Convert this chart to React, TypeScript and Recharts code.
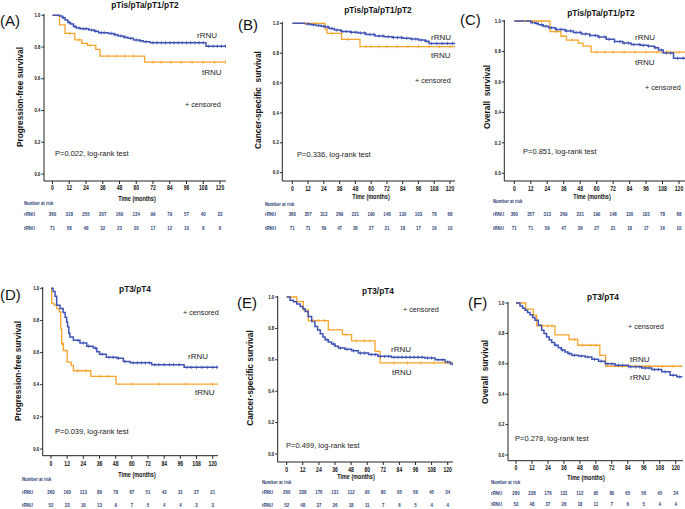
import React from "react";
import { ComposedChart, Line, XAxis, YAxis } from "recharts";

const BLUE = "#3f53b4";
const ORANGE = "#f6a42a";
const NAVY = "#2d4276";
const SANS = "'Liberation Sans', Arial, sans-serif";

const timeTicks = [0, 12, 24, 36, 48, 60, 72, 84, 96, 108, 120];
const survTicks = [0, 0.2, 0.4, 0.6, 0.8, 1.0];

// number at risk (rows per panel)
const riskLowPfsR = [360, 318, 255, 207, 169, 134, 99, 79, 57, 40, 33];
const riskLowPfsT = [71, 58, 48, 32, 23, 20, 17, 12, 10, 8, 6];
const riskLowOsR = [360, 357, 313, 269, 221, 190, 148, 130, 103, 78, 68];
const riskLowOsT = [71, 71, 59, 47, 36, 27, 21, 18, 17, 16, 10];
const riskHighPfsR = [260, 160, 113, 89, 78, 67, 51, 42, 31, 27, 21];
const riskHighPfsT = [52, 23, 16, 13, 9, 7, 5, 4, 4, 3, 3];
const riskHighOsR = [260, 238, 176, 131, 112, 95, 80, 65, 56, 45, 34];
const riskHighOsT = [52, 48, 37, 26, 18, 11, 7, 6, 5, 4, 4];

// KM steps [months, survival after drop]
const aR: [number, number][] = [[0, 1], [5, 0.995], [7, 0.985], [9, 0.97], [11, 0.955], [13, 0.945], [15, 0.93], [17, 0.92], [20, 0.915], [26, 0.907], [30, 0.9], [33, 0.89], [40, 0.886], [44, 0.878], [47, 0.87], [51, 0.862], [54, 0.855], [58, 0.845], [62, 0.84], [65, 0.834], [70, 0.827], [110, 0.805]];
const aRc = [8, 12, 16, 19, 22, 24, 28, 31, 35, 37, 42, 45, 49, 52, 56, 60, 63, 67, 72, 75, 78, 81, 84, 87, 90, 93, 96, 99, 102, 105, 108, 112, 115, 118, 121, 124];
const aT: [number, number][] = [[0, 1], [5, 0.94], [9, 0.886], [16, 0.845], [21, 0.823], [25, 0.81], [31, 0.785], [34, 0.743], [66, 0.705]];
const aTc = [12, 19, 27, 40, 46, 52, 58, 72, 78, 85, 92, 100, 108, 116, 124];

const bR: [number, number][] = [[0, 1], [10, 0.995], [14, 0.99], [18, 0.985], [22, 0.98], [25, 0.975], [28, 0.965], [32, 0.955], [37, 0.945], [44, 0.94], [50, 0.935], [56, 0.925], [63, 0.915], [70, 0.91], [76, 0.905], [84, 0.9], [90, 0.895], [96, 0.888], [101, 0.88], [104, 0.865]];
const bRc = [12, 16, 20, 24, 27, 30, 34, 38, 41, 45, 48, 52, 55, 59, 62, 66, 69, 73, 77, 80, 83, 87, 91, 94, 98, 102, 106, 110, 114, 118, 122];
const bT: [number, number][] = [[0, 1], [25, 0.96], [26.5, 0.933], [37.5, 0.893], [51.5, 0.844]];
const bTc = [10, 18, 30, 42, 56, 60, 66, 72, 80, 88, 96, 104, 112, 120];

const cR: [number, number][] = [[0, 1], [12, 0.99], [15, 0.985], [17.5, 0.975], [21, 0.965], [25, 0.955], [30, 0.945], [37, 0.935], [43, 0.925], [49, 0.915], [55, 0.905], [61, 0.895], [67, 0.88], [73, 0.865], [79, 0.855], [85, 0.845], [92, 0.84], [97.5, 0.835], [102, 0.825], [105, 0.81], [108.5, 0.79], [116, 0.755]];
const cRc = [13, 16, 20, 23, 27, 31, 34, 38, 41, 45, 48, 52, 55, 59, 62, 66, 69, 73, 77, 80, 83, 87, 91, 94, 98, 103, 107, 111, 114, 119, 123];
const cT: [number, number][] = [[0, 1], [26, 0.93], [34, 0.9], [38, 0.875], [46.5, 0.855], [50, 0.835], [56, 0.795]];
const cTc = [8, 14, 20, 30, 42, 60, 66, 72, 80, 88, 96, 104, 112, 120];

const dR: [number, number][] = [[0, 1], [1.5, 0.98], [3, 0.95], [4.2, 0.895], [6.7, 0.874], [9, 0.85], [10.5, 0.82], [11.6, 0.79], [12.3, 0.76], [13.2, 0.72], [14, 0.697], [16.6, 0.676], [21.5, 0.66], [26.5, 0.64], [31.4, 0.628], [34, 0.605], [36, 0.59], [41, 0.571], [48.8, 0.565], [53.7, 0.544], [58.7, 0.536], [74.7, 0.525], [98.8, 0.508]];
const dRc = [20, 24, 28, 33, 38, 43, 46, 50, 55, 61, 64, 67, 70, 73, 77, 80, 84, 88, 91, 95, 101, 104, 108, 112, 116, 120, 123];
const dT: [number, number][] = [[0, 1], [0.5, 0.906], [2.2, 0.895], [4.3, 0.874], [6.2, 0.853], [7.2, 0.749], [7.9, 0.655], [9.2, 0.613], [12, 0.54], [15, 0.52], [16.6, 0.487], [29.5, 0.452], [48.3, 0.404]];
const dTc = [8.5, 20, 26, 36, 42, 60, 80, 100, 120];

const eR: [number, number][] = [[0, 1], [2.5, 0.98], [5, 0.97], [7.5, 0.955], [10, 0.94], [12, 0.925], [13.7, 0.907], [16, 0.876], [18.6, 0.844], [21, 0.812], [23, 0.79], [25, 0.766], [27, 0.745], [28.6, 0.728], [31, 0.713], [33.5, 0.7], [36, 0.687], [38.5, 0.675], [43.5, 0.667], [48.4, 0.658], [53.4, 0.643], [61, 0.633], [68, 0.622], [78, 0.616], [103, 0.612], [110.6, 0.6], [118, 0.586], [122, 0.574]];
const eRc = [30, 35, 40, 45, 50, 55, 58, 63, 66, 70, 73, 76, 80, 83, 86, 89, 92, 95, 98, 101, 105, 108, 113, 116, 120, 124];
const eT: [number, number][] = [[0, 1], [7.5, 0.97], [12.4, 0.918], [16.1, 0.85], [31, 0.79], [41.5, 0.76], [48.4, 0.72], [65.8, 0.654], [69.6, 0.58]];
const eTc = [20, 24, 28, 44, 52, 58, 62, 80, 90, 100, 110, 118];

const fR: [number, number][] = [[0, 1], [3, 0.98], [5, 0.965], [6.8, 0.952], [8.7, 0.937], [10.5, 0.923], [12.5, 0.905], [14.3, 0.886], [16.8, 0.853], [19.3, 0.82], [21, 0.8], [23, 0.777], [25, 0.757], [26.8, 0.74], [29, 0.722], [31.8, 0.705], [34, 0.69], [36.8, 0.678], [39, 0.667], [41.8, 0.656], [46.9, 0.652], [52, 0.645], [57, 0.63], [62, 0.617], [67, 0.6], [74.4, 0.59], [84.5, 0.58], [94.5, 0.573], [102, 0.562], [109.5, 0.547], [115.8, 0.525], [120.8, 0.514]];
const fRc = [30, 35, 40, 44, 49, 54, 59, 64, 69, 72, 77, 80, 86, 90, 93, 97, 100, 104, 107, 112, 118, 123];
const fT: [number, number][] = [[0, 1], [7.3, 0.96], [13, 0.92], [15.5, 0.849], [29.3, 0.79], [39.8, 0.76], [46.4, 0.722], [63, 0.656], [67.4, 0.584]];
const fTc = [20, 24, 27, 44, 50, 56, 60, 80, 90, 100, 110, 118];

type Pt = { t: number; s: number; c?: boolean };

function levelAt(steps: [number, number][], t: number) {
  let s = 1;
  for (const [st, sv] of steps) if (st <= t) s = sv;
  return s;
}

// step points + censor ticks, sorted by time, ending at `end`
function buildKM(steps: [number, number][], cens: number[], end: number): Pt[] {
  const pts: Pt[] = steps.map(([t, s]) => ({ t, s }));
  cens.forEach((t) => pts.push({ t, s: levelAt(steps, t), c: true }));
  pts.push({ t: end, s: levelAt(steps, end) });
  return pts.sort((a, b) => a.t - b.t);
}

const censorDot = (color: string) => (p: any) =>
  p.payload && p.payload.c ? (
    <line key={p.index} x1={p.cx} x2={p.cx} y1={p.cy - 1.7} y2={p.cy + 1.7} stroke={color} strokeWidth={0.8} />
  ) : (
    <g key={p.index} />
  );

// condensed bold text (squeezed horizontally)
const NText = ({ x, y, size, fill, anchor = "middle", sx = 0.78, children }: any) => (
  <text
    transform={`translate(${x} ${y}) scale(${sx} 1)`}
    fontFamily={SANS}
    fontWeight="bold"
    fontSize={size}
    fill={fill}
    textAnchor={anchor}
    dominantBaseline="central"
  >
    {children}
  </text>
);

const panels = [
  {
    id: "A", box: [0, 0, 230, 240], yAxisX: 44, x0: 52.5, x120: 220, xEnd: 226, y1: 15.3, y0: 174, yTop: 14, axisY: 181,
    tickY: 187.5, timeX: 137, timeY: 198, narY: 203, rY: 214, tY: 228, rowX: 24,
    riskR: riskLowPfsR, riskT: riskLowPfsT, rSteps: aR, rCens: aRc, tSteps: aT, tCens: aTc, end: 125,
    letter: [0, 26], title: "pTis/pTa/pT1/pT2", titleXY: [145, 5], ytitle: "Progression-free survival", ytXY: [20, 97],
    rLab: [197, 35], tLab: [202, 72], cens: [185, 104], p: "P=0.022, log-rank test", pXY: [55, 153],
  },
  {
    id: "B", box: [230, 0, 230, 240], yAxisX: 282.3, x0: 292.3, x120: 450, xEnd: 455, y1: 23.3, y0: 172.7, yTop: 22, axisY: 181,
    tickY: 188.5, timeX: 371, timeY: 196, narY: 204, rY: 214, tY: 228, rowX: 265,
    riskR: riskLowOsR, riskT: riskLowOsT, rSteps: bR, rCens: bRc, tSteps: bT, tCens: bTc, end: 125,
    letter: [238, 30], title: "pTis/pTa/pT1/pT2", titleXY: [378, 10], ytitle: "Cancer-specific\u00a0 survival", ytXY: [258, 100],
    rLab: [431, 37], tLab: [431, 55], cens: [415, 80], p: "P=0.336, log-rank test", pXY: [297, 154],
  },
  {
    id: "C", box: [460, 0, 225, 240], yAxisX: 504.3, x0: 514.3, x120: 679, xEnd: 685, y1: 21, y0: 173.3, yTop: 20, axisY: 181,
    tickY: 188.5, timeX: 592, timeY: 196, narY: 201, rY: 214, tY: 228, rowX: 493,
    riskR: riskLowOsR, riskT: riskLowOsT, rSteps: cR, rCens: cRc, tSteps: cT, tCens: cTc, end: 125,
    letter: [460, 25], title: "pTis/pTa/pT1/pT2", titleXY: [601, 13], ytitle: "Overall\u00a0 survival", ytXY: [487, 97],
    rLab: [635, 37], tLab: [635, 62], cens: [645, 87], p: "P=0.851, log-rank test", pXY: [523, 151],
  },
  {
    id: "D", box: [0, 255, 230, 254], yAxisX: 42.7, x0: 51, x120: 212.7, xEnd: 218, y1: 288.3, y0: 449, yTop: 287, axisY: 455.7,
    tickY: 464, timeX: 137, timeY: 474, narY: 479.5, rY: 492, tY: 505, rowX: 22,
    riskR: riskHighPfsR, riskT: riskHighPfsT, rSteps: dR, rCens: dRc, tSteps: dT, tCens: dTc, end: 124,
    letter: [0, 300], title: "pT3/pT4", titleXY: [135, 289], ytitle: "Progression-free survival", ytXY: [18, 371],
    rLab: [188, 356], tLab: [195, 392], cens: [183, 312], p: "P=0.039, log-rank test", pXY: [55, 431],
  },
  {
    id: "E", box: [230, 255, 230, 254], yAxisX: 277.7, x0: 286.7, x120: 447.7, xEnd: 453, y1: 297, y0: 454, yTop: 296, axisY: 462,
    tickY: 470, timeX: 356, timeY: 476.7, narY: 482, rY: 492, tY: 505, rowX: 262,
    riskR: riskHighOsR, riskT: riskHighOsT, rSteps: eR, rCens: eRc, tSteps: eT, tCens: eTc, end: 125,
    letter: [237, 308], title: "pT3/pT4", titleXY: [378, 291], ytitle: "Cancer-specific survival", ytXY: [250, 378],
    rLab: [391, 349], tLab: [392, 372], cens: [403, 309], p: "P=0.499, log-rank test", pXY: [286, 445],
  },
  {
    id: "F", box: [460, 255, 225, 254], yAxisX: 508, x0: 516, x120: 675.7, xEnd: 683, y1: 303, y0: 455, yTop: 302, axisY: 460.7,
    tickY: 468, timeX: 586, timeY: 477.7, narY: 482.7, rY: 493, tY: 504, rowX: 491,
    riskR: riskHighOsR, riskT: riskHighOsT, rSteps: fR, rCens: fRc, tSteps: fT, tCens: fTc, end: 125,
    letter: [468, 308], title: "pT3/pT4", titleXY: [603, 297], ytitle: "Overall\u00a0 survival", ytXY: [485, 372],
    rLab: [630, 377], tLab: [630, 359], cens: [628, 326], p: "P=0.278, log-rank test", pXY: [515, 438],
  },
];

const RiskTick = ({ x, payload, cfg }: any) => {
  const by = cfg.box[1];
  const i = Math.round(payload.value / 12);
  return (
    <g>
      <NText x={x} y={cfg.tickY - by} size={6.5} fill="#111">{payload.value}</NText>
      <NText x={x} y={cfg.rY - by} size={5.6} fill={NAVY}>{cfg.riskR[i]}</NText>
      <NText x={x} y={cfg.tY - by} size={5.6} fill={NAVY}>{cfg.riskT[i]}</NText>
    </g>
  );
};

const YTick = ({ x, y, payload }: any) => (
  <NText x={x} y={y} size={5.5} fill="#111" anchor="end">{Number(payload.value).toFixed(1)}</NText>
);

function Panel({ cfg }: any) {
  const [bx, by, bw, bh] = cfg.box;
  const pxm = (cfg.x120 - cfg.x0) / 120;
  const xMin = -(cfg.x0 - cfg.yAxisX) / pxm;
  const xMax = 120 + (cfg.xEnd - cfg.x120) / pxm;
  const pxu = cfg.y0 - cfg.y1;
  const yMin = -(cfg.axisY - cfg.y0) / pxu;
  const yMax = 1 + (cfg.y1 - cfg.yTop) / pxu;
  const YW = 20;
  const XH = 4;
  const margin = {
    left: cfg.yAxisX - bx - YW,
    right: bx + bw - cfg.xEnd,
    top: cfg.yTop - by,
    bottom: by + bh - cfg.axisY - XH,
  };
  const rData = buildKM(cfg.rSteps, cfg.rCens, cfg.end);
  const tData = buildKM(cfg.tSteps, cfg.tCens, cfg.end);
  return (
    <div style={{ position: "absolute", left: bx, top: by, width: bw, height: bh }}>
      <ComposedChart width={bw} height={bh} margin={margin}>
        <XAxis
          dataKey="t"
          type="number"
          domain={[xMin, xMax]}
          allowDataOverflow
          ticks={timeTicks}
          interval={0}
          height={XH}
          tickSize={3}
          stroke="#222"
          tick={(p: any) => <RiskTick key={p.index} {...p} cfg={cfg} />}
        />
        <YAxis
          type="number"
          domain={[yMin, yMax]}
          allowDataOverflow
          ticks={survTicks}
          interval={0}
          width={YW}
          tickSize={2.5}
          tickMargin={1}
          stroke="#222"
          tick={(p: any) => <YTick key={p.index} {...p} />}
        />
        <Line data={tData} dataKey="s" type="stepAfter" stroke={ORANGE} strokeWidth={1.3}
          dot={censorDot(ORANGE)} activeDot={false} isAnimationActive={false} />
        <Line data={rData} dataKey="s" type="stepAfter" stroke={BLUE} strokeWidth={1.5}
          dot={censorDot(BLUE)} activeDot={false} isAnimationActive={false} />
      </ComposedChart>
    </div>
  );
}

function Labels() {
  return (
    <svg width={685} height={509} style={{ position: "absolute", left: 0, top: 0, pointerEvents: "none" }}>
      {panels.map((c: any) => (
        <g key={c.id} fontFamily={SANS}>
          <text x={c.letter[0]} y={c.letter[1]} fontSize={15} fill="#111">({c.id})</text>
          <text x={c.titleXY[0]} y={c.titleXY[1]} fontSize={8.3} fontWeight="bold" textAnchor="middle" dominantBaseline="central" fill="#111">{c.title}</text>
          <text x={c.ytXY[0]} y={c.ytXY[1]} fontSize={8.3} fontWeight="bold" textAnchor="middle" dominantBaseline="central" fill="#111"
            transform={`rotate(-90 ${c.ytXY[0]} ${c.ytXY[1]})`}>{c.ytitle}</text>
          <text x={c.rLab[0]} y={c.rLab[1]} fontSize={8} dominantBaseline="central" fill="#222">rRNU</text>
          <text x={c.tLab[0]} y={c.tLab[1]} fontSize={8} dominantBaseline="central" fill="#222">tRNU</text>
          <text x={c.cens[0]} y={c.cens[1]} fontSize={7.2} dominantBaseline="central" fill="#222">+ censored</text>
          <text x={c.pXY[0]} y={c.pXY[1]} fontSize={7.5} dominantBaseline="central" fill="#222">{c.p}</text>
          <NText x={c.timeX} y={c.timeY} size={7} fill="#111">Time (months)</NText>
          <NText x={c.rowX} y={c.narY} size={5.4} fill={NAVY} anchor="start">Number at risk</NText>
          <NText x={c.rowX} y={c.rY} size={5.6} fill={NAVY} anchor="start">rRNU</NText>
          <NText x={c.rowX} y={c.tY} size={5.6} fill={NAVY} anchor="start">tRNU</NText>
        </g>
      ))}
    </svg>
  );
}

export default function App() {
  return (
    <div style={{ position: "absolute", left: 0, top: 0, width: 685, height: 509, background: "#fff", overflow: "hidden" }}>
      {panels.map((c) => (
        <Panel key={c.id} cfg={c} />
      ))}
      <Labels />
    </div>
  );
}
